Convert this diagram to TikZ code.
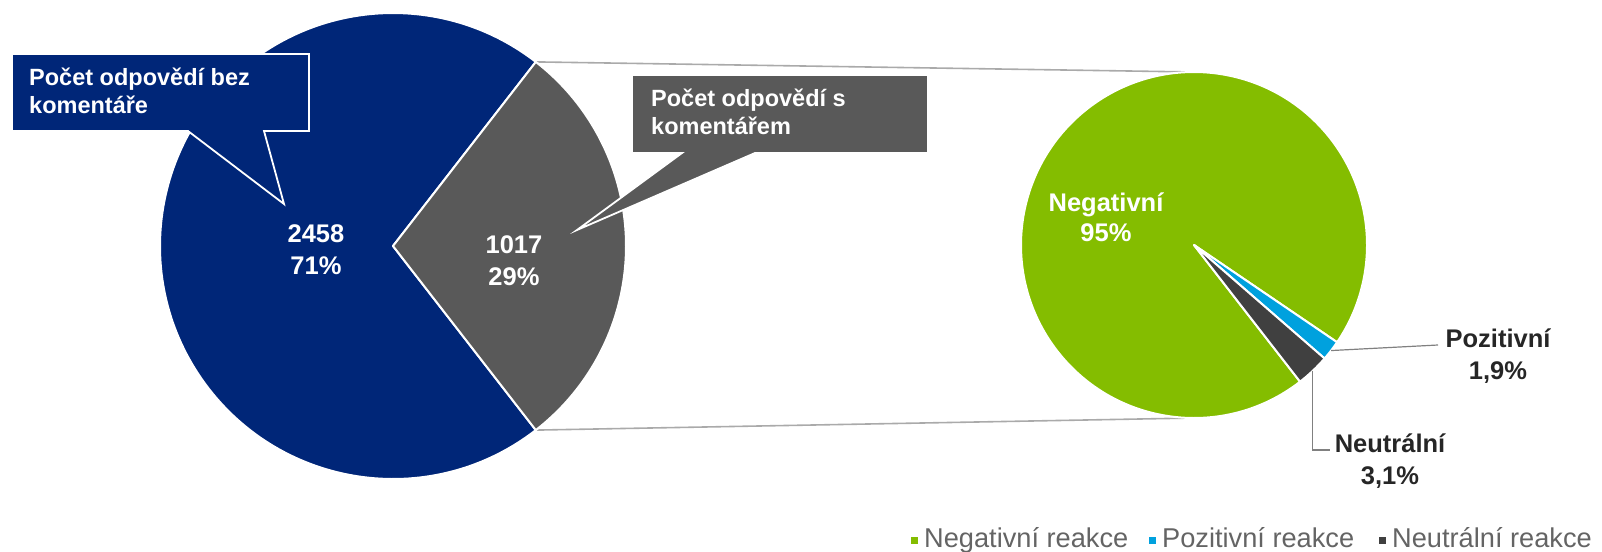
\documentclass[tikz,border=0pt]{standalone}
\usepackage{fontspec}
\setmainfont{Liberation Sans}
\usetikzlibrary{calc}
\definecolor{navy}{RGB}{0,38,120}
\definecolor{slate}{RGB}{89,89,89}
\definecolor{leafgreen}{RGB}{132,189,0}
\definecolor{skyblue}{RGB}{0,161,222}
\definecolor{charcoal}{RGB}{64,64,64}
\definecolor{linkgray}{RGB}{170,170,170}
\definecolor{leadergray}{RGB}{128,128,128}
\definecolor{legendgray}{RGB}{100,100,100}
\begin{document}
\begin{tikzpicture}[x=1pt,y=-1pt,
  slice/.style={draw=white,line width=2pt,line join=round},
  connector/.style={draw=linkgray,line width=1.6pt},
  leader/.style={draw=leadergray,line width=1.2pt},
  callout/.style={draw=white,line width=1.8pt,line join=miter},
  callouttext/.style={font=\fontsize{23.5}{28}\selectfont\bfseries,text=white,inner sep=0pt,anchor=base west},
  pielabel/.style={font=\fontsize{25.5}{30}\selectfont\bfseries,inner sep=0pt,anchor=base},
  legendtext/.style={font=\fontsize{27.2}{30}\selectfont,text=legendgray,inner sep=0pt,anchor=base west},
  legendkey/.style={minimum size=7pt,inner sep=0pt}]
\useasboundingbox (0,0) rectangle (1602,551);

% centres of the two pies
\coordinate (Lc) at (393,246);
\coordinate (Rc) at (1194,245);
\coordinate (gtop) at ($(Lc)+(-52.2:233)$);
\coordinate (gbot) at ($(Lc)+(52.2:233)$);
\coordinate (Rtop) at ($(Rc)+(-90:173)$);
\coordinate (Rbot) at ($(Rc)+(90:173)$);

% lines joining the commented share to the breakdown pie
\draw[connector] (gtop) -- (Rtop);
\draw[connector] (gbot) -- (Rbot);

% main pie
\filldraw[slice,fill=navy] (Lc) -- (gbot) arc[start angle=52.2,end angle=307.8,radius=233] -- cycle;
\filldraw[slice,fill=slate] (Lc) -- (gtop) arc[start angle=-52.2,end angle=52.2,radius=233] -- cycle;

% breakdown pie
\filldraw[slice,fill=leafgreen] (Rc) -- ($(Rc)+(52.2:173)$) arc[start angle=52.2,end angle=394.2,radius=173] -- cycle;
\filldraw[slice,fill=skyblue] (Rc) -- ($(Rc)+(34.2:173)$) arc[start angle=34.2,end angle=41.0,radius=173] -- cycle;
\filldraw[slice,fill=charcoal] (Rc) -- ($(Rc)+(41.0:173)$) arc[start angle=41.0,end angle=52.2,radius=173] -- cycle;

% callouts
\filldraw[callout,fill=navy] (12,54) -- (309,54) -- (309,131) -- (264,131) -- (284,204) -- (188,131) -- (12,131) -- cycle;
\filldraw[callout,fill=slate] (632,75) -- (928,75) -- (928,153) -- (755,153) -- (577,230) -- (682,153) -- (632,153) -- cycle;
\node[callouttext] (bezA) at (29,85) {Počet odpovědí bez};
\node[callouttext] (bezB) at (29,113) {komentáře};
\node[callouttext] (sA) at (651,106) {Počet odpovědí s};
\node[callouttext] (sB) at (651,134) {komentářem};

% values in the main pie
\node[pielabel,text=white] (n2458) at (316,242) {2458};
\node[pielabel,text=white] (p71) at (316,274) {71\%};
\node[pielabel,text=white] (n1017) at (514,253) {1017};
\node[pielabel,text=white] (p29) at (514,285) {29\%};

% labels of the breakdown pie
\node[pielabel,text=white] (neg) at (1106,211) {Negativní};
\node[pielabel,text=white] (p95) at (1106,241) {95\%};
\node[pielabel,text=black!85] (poz) at (1498,347) {Pozitivní};
\node[pielabel,text=black!85] (p19) at (1498,379) {1,9\%};
\node[pielabel,text=black!85] (neu) at (1390,452) {Neutrální};
\node[pielabel,text=black!85] (p31) at (1390,484) {3,1\%};

\coordinate (pozS) at ($(Rc)+(37.6:173)$);
\coordinate (pozE) at (1438,345);
\draw[leader] (pozS) -- (pozE);
\coordinate (neuS) at ($(Rc)+(46.6:173)$);
\coordinate (neuE) at (1330,450);
\draw[leader] (neuS) |- (neuE);

% legend
\node[legendkey,fill=leafgreen] (kNeg) at (914,540) {};
\node[legendtext] (tNeg) at (924,547) {Negativní reakce};
\node[legendkey,fill=skyblue] (kPoz) at (1152,540) {};
\node[legendtext] (tPoz) at (1162,547) {Pozitivní reakce};
\node[legendkey,fill=charcoal] (kNeu) at (1382,540) {};
\node[legendtext] (tNeu) at (1392,547) {Neutrální reakce};
\end{tikzpicture}
\end{document}
